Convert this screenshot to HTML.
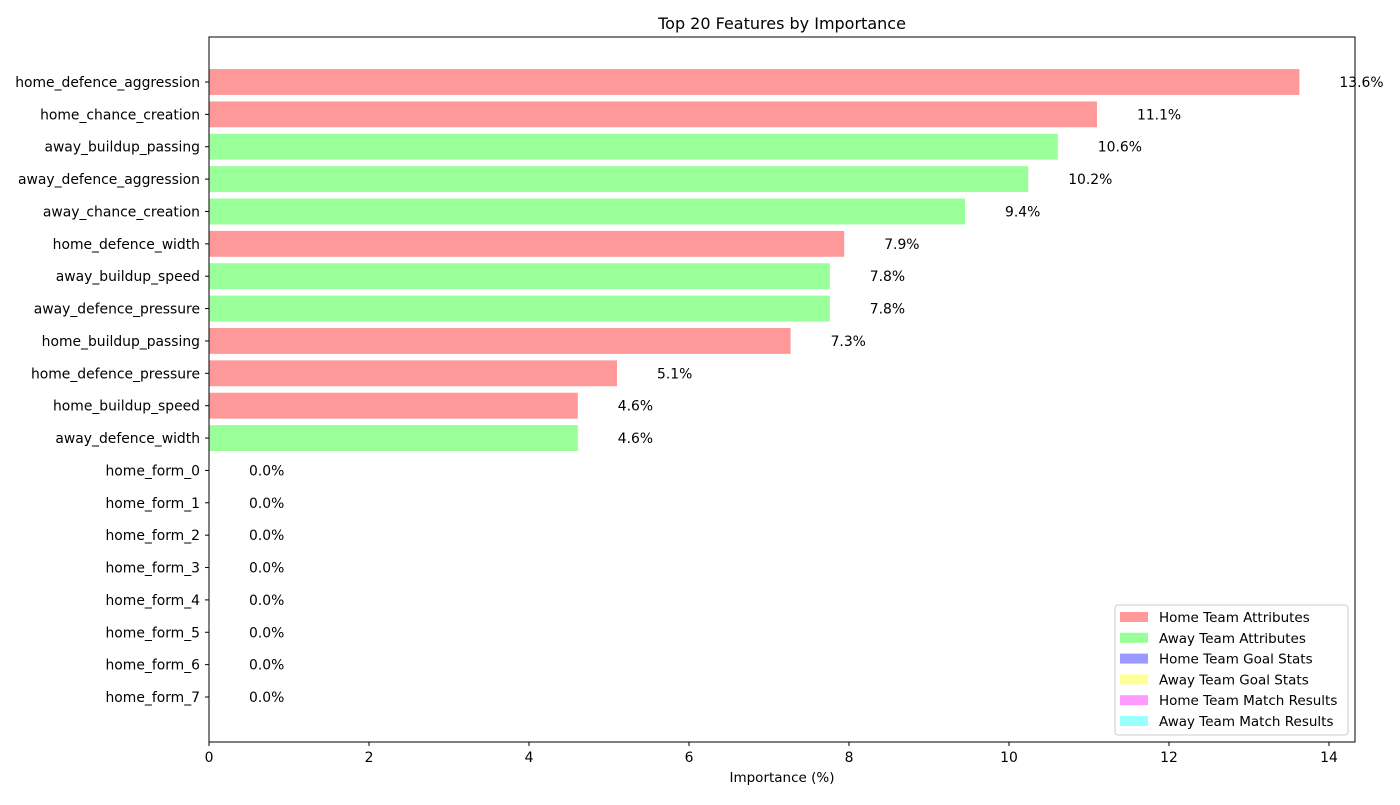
<!DOCTYPE html>
<html><head><meta charset="utf-8"><style>
body{margin:0;background:#fff;font-family:"Liberation Sans","DejaVu Sans",sans-serif;}
svg text{font-family:"DejaVu Sans","Liberation Sans",sans-serif;}
</style></head><body>
<svg id="chart" width="1400" height="800">
<text x="782" y="29" font-size="16" text-anchor="middle">Top 20 Features by Importance</text>
<g id="bars"></g>
<rect x="209" y="37" width="1146" height="705" fill="none" stroke="#000" stroke-width="1"/>
<g id="xaxis"></g>
<text x="782" y="782" font-size="13.5" text-anchor="middle">Importance (%)</text>
<g id="legend"></g>
</svg>
<script>
const features=["home_defence_aggression","home_chance_creation","away_buildup_passing","away_defence_aggression","away_chance_creation","home_defence_width","away_buildup_speed","away_defence_pressure","home_buildup_passing","home_defence_pressure","home_buildup_speed","away_defence_width","home_form_0","home_form_1","home_form_2","home_form_3","home_form_4","home_form_5","home_form_6","home_form_7"];
const values=[13.63,11.1,10.61,10.24,9.45,7.94,7.76,7.76,7.27,5.1,4.61,4.61,0,0,0,0,0,0,0,0];
const groups=[0,0,1,1,1,0,1,1,0,0,0,1,2,2,2,2,2,2,2,2];
const xTicks=[0,2,4,6,8,10,12,14];
const legendLabels=["Home Team Attributes","Away Team Attributes","Home Team Goal Stats","Away Team Goal Stats","Home Team Match Results","Away Team Match Results"];
const colors=["#ff9999","#99ff99","#9999ff","#ffff99","#ff99ff","#99ffff"];
const NS="http://www.w3.org/2000/svg";
const x0=209,pxu=80;
const xs=v=>x0+v*pxu;
const yTop=37,yBot=742,yMin=-1.39,yMax=20.39;
const ys=i=>yTop+(i-yMin)/(yMax-yMin)*(yBot-yTop);
const bh=0.8*(yBot-yTop)/(yMax-yMin);
const FS=13.9;
function mk(t,a,p){const e=document.createElementNS(NS,t);for(const k in a)e.setAttribute(k,a[k]);p.appendChild(e);return e;}
const bars=document.getElementById('bars');
features.forEach((f,i)=>{
 const cy=ys(i);
 const r=mk('rect',{x:xs(0),y:cy-bh/2,width:Math.max(0,xs(values[i])-xs(0)),height:bh,fill:colors[groups[i]]},bars);
 
 
 const l=mk('text',{x:xs(values[i]+0.5),y:cy+5,'font-size':FS},bars);l.textContent=values[i].toFixed(1)+'%';
 
 
 mk('line',{x1:x0-4,x2:x0,y1:cy,y2:cy,stroke:'#000'},bars);
 const yl=mk('text',{x:x0-9,y:cy+5,'font-size':FS,'text-anchor':'end'},bars);yl.textContent=f;
 
 
});
const xa=document.getElementById('xaxis');
xTicks.forEach(v=>{
 mk('line',{x1:xs(v),x2:xs(v),y1:yBot,y2:yBot+4,stroke:'#000'},xa);
 const t=mk('text',{x:xs(v),y:yBot+20,'font-size':FS,'text-anchor':'middle'},xa);t.textContent=v;
 
 
});
const lg=document.getElementById('legend');
const box=mk('rect',{x:1115,y:605,width:233,height:130,rx:3,fill:'#fff','fill-opacity':0.8,stroke:'#ccc'},lg);


legendLabels.forEach((s,i)=>{
 const y=617+i*20.8;
 mk('rect',{x:1120,y:y-5,width:28,height:10,fill:colors[i]},lg);
 const t=mk('text',{x:1159,y:y+5,'font-size':13.5},lg);t.textContent=s;
 
 
});
</script>
</body></html>
